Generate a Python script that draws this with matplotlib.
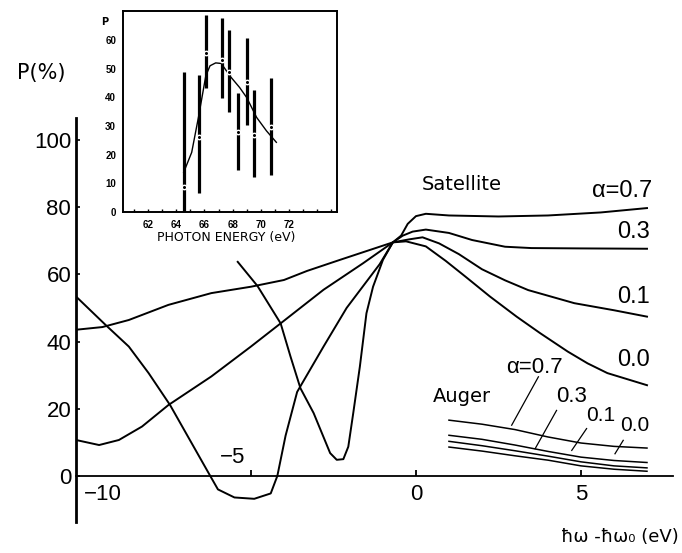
import matplotlib
matplotlib.use('Agg')
import matplotlib.pyplot as plt
from matplotlib import font_manager

# narrow face for the numbers, if one is installed; Arial-like otherwise
names = {f.name for f in font_manager.fontManager.ttflist}
NARROW = 'DejaVu Sans'
for cand in ['Liberation Sans Narrow', 'DejaVu Sans Condensed', 'Liberation Sans']:
    if cand in names:
        NARROW = cand
        break

# ---- main plot: satellite polarization vs hw - hw0 ----
sat07_x = [-10.3, -9.5, -8.7, -7.5, -6.2, -5.0, -4.0, -3.3, -2.3, -1.1, -0.7,
           -0.45, -0.25, 0.0, 0.3, 1.0, 2.5, 4.0, 5.6, 7.0]
sat07_y = [43.5, 44.3, 46.4, 50.9, 54.4, 56.3, 58.3, 61.0, 64.3, 68.2, 69.5,
           71.5, 75.0, 77.3, 78.0, 77.5, 77.2, 77.5, 78.4, 79.7]

sat03_x = [-10.3, -9.6, -9.0, -8.3, -7.5, -6.2, -5.0, -4.1, -2.8, -1.6, -0.7,
           -0.4, -0.1, 0.3, 1.0, 1.7, 2.7, 3.5, 5.0, 7.0]
sat03_y = [10.7, 9.2, 10.7, 14.7, 21.1, 29.6, 38.5, 45.4, 55.4, 63.3, 69.5,
           71.5, 72.7, 73.3, 72.3, 70.2, 68.2, 67.8, 67.7, 67.6]

sat01_x = [-10.3, -9.4, -8.7, -8.1, -7.45, -6.85, -6.25, -6.0, -5.5, -4.9, -4.4,
           -4.2, -3.95, -3.6, -2.8, -2.1, -1.1, -0.7, -0.2, 0.2, 0.7, 1.3,
           2.0, 2.7, 3.4, 4.8, 6.0, 7.0]
sat01_y = [53.4, 44.9, 38.5, 30.6, 21.1, 10.7, 0.3, -4.0, -6.4, -6.8, -5.2,
           0.0, 12.0, 25.0, 38.5, 50.0, 63.0, 69.5, 70.4, 71.0, 69.2, 66.0,
           61.5, 58.2, 55.3, 51.4, 49.3, 47.4]

sat00_x = [-5.4, -4.8, -4.1, -3.8, -3.5, -3.1, -2.6, -2.4, -2.2, -2.05, -1.9,
           -1.7, -1.5, -1.3, -1.0, -0.7, -0.3, 0.3, 0.9, 1.5, 2.24, 3.05, 3.76,
           4.6, 5.2, 5.8, 7.0]
sat00_y = [63.7, 56.5, 45.4, 35.5, 26.1, 18.7, 6.8, 4.8, 5.0, 8.7, 18.7,
           32.5, 48.4, 56.3, 64.3, 69.5, 69.8, 68.3, 64.0, 59.3, 53.4, 47.4, 42.5,
           37.0, 33.5, 30.6, 27.0]

auger_x = [1.0, 2.0, 3.0, 4.0, 5.0, 6.0, 7.0]
auger07 = [16.6, 15.4, 13.8, 11.6, 9.8, 8.8, 8.3]
auger03 = [12.1, 10.9, 9.2, 7.3, 5.6, 4.6, 4.0]
auger01 = [10.3, 9.0, 7.5, 5.9, 4.2, 3.0, 2.4]
auger00 = [8.6, 7.4, 6.0, 4.7, 3.0, 2.0, 1.4]

y_ticks = [0, 20, 40, 60, 80, 100]

# ---- inset: measured P vs photon energy ----
exp_e = [64.53, 65.62, 66.09, 67.23, 67.77, 68.38, 69.0, 69.52, 70.7]
exp_p = [8.8, 26.3, 55.3, 53.0, 48.9, 28.0, 45.5, 26.9, 29.8]
exp_lo = [0.0, 6.5, 43.1, 39.7, 35.0, 14.6, 30.3, 12.3, 12.9]
exp_hi = [48.9, 47.8, 68.7, 67.5, 63.5, 41.4, 60.6, 42.6, 46.6]

fit_e = [64.53, 65.1, 65.6, 66.1, 66.4, 66.8, 67.2, 67.8, 68.5, 69.0, 69.7, 70.4, 71.1]
fit_p = [13.8, 20.8, 33.6, 47.5, 51.0, 52.0, 51.8, 47.5, 43.4, 39.9, 33.0, 28.3, 24.3]

inset_xticks = [62, 64, 66, 68, 70, 72]
inset_yticks = [0, 10, 20, 30, 40, 50, 60]

fig = plt.figure(figsize=(6.82, 5.53), dpi=100)
ax = fig.add_axes([76 / 682, 31 / 553, 597.4 / 682, 404 / 553])
ax.set_xlim(-10.3, 7.8)
ax.set_ylim(-13.7, 106.5)
ax.spines['top'].set_visible(False)
ax.spines['right'].set_visible(False)
ax.spines['bottom'].set_position(('data', 0))
ax.spines['left'].set_linewidth(2.0)
ax.spines['bottom'].set_linewidth(1.3)

ax.set_yticks(y_ticks)
ax.set_yticklabels([str(v) for v in y_ticks], fontfamily=NARROW, fontsize=16)
ax.tick_params(axis='y', direction='in', length=3, width=1.2, pad=3.5)
ax.set_xticks([-5, 0, 5])
ax.set_xticklabels([])
ax.tick_params(axis='x', direction='in', length=4, width=1.3)

for xs, ys in [(sat07_x, sat07_y), (sat03_x, sat03_y), (sat01_x, sat01_y), (sat00_x, sat00_y)]:
    ax.plot(xs, ys, color='k', lw=1.4, solid_joinstyle='round')
for ys in [auger07, auger03, auger01, auger00]:
    ax.plot(auger_x, ys, color='k', lw=1.1)

# x tick numbers are placed by hand, as in the original
num = dict(fontfamily=NARROW, fontsize=16, ha='center', va='center')
ax.text(-9.48, -5.65, '\u221210', **num)
ax.text(-5.55, 5.4, '\u22125', **num)
ax.text(0, -5.65, '0', **num)
ax.text(5, -5.65, '5', **num)

# satellite labels
ax.text(1.39, 86.6, 'Satellite', fontsize=14, ha='center', va='center')
ax.text(7.15, 84.8, '\u03b1=0.7', fontfamily=[NARROW, 'DejaVu Sans'], fontsize=17,
        ha='right', va='center')
ax.text(7.1, 72.6, '0.3', fontfamily=NARROW, fontsize=17, ha='right', va='center')
ax.text(7.1, 53.3, '0.1', fontfamily=NARROW, fontsize=17, ha='right', va='center')
ax.text(7.1, 34.5, '0.0', fontfamily=NARROW, fontsize=17, ha='right', va='center')

# auger labels with leader lines
ax.text(1.38, 23.5, 'Auger', fontsize=14, ha='center', va='center')
ax.text(3.6, 32.4, '\u03b1=0.7', fontfamily=[NARROW, 'DejaVu Sans'], fontsize=16,
        ha='center', va='center')
ax.text(4.72, 23.5, '0.3', fontfamily=NARROW, fontsize=16, ha='center', va='center')
ax.text(5.6, 18.0, '0.1', fontfamily=NARROW, fontsize=15, ha='center', va='center')
ax.text(6.64, 14.9, '0.0', fontfamily=NARROW, fontsize=15, ha='center', va='center')
for x0, y0, x1, y1 in [(3.71, 29.5, 2.9, 15.1), (4.26, 19.5, 3.61, 8.1),
                       (5.17, 14.1, 4.72, 7.6), (6.28, 10.6, 6.03, 6.6)]:
    ax.plot([x0, x1], [y0, y1], color='k', lw=0.9)

fig.text(41 / 682, 1 - 73 / 553, 'P(%)', fontsize=15, ha='center', va='center')
fig.text(620 / 682, 1 - 537 / 553, '\u0127\u03c9 -\u0127\u03c9\u2080 (eV)', fontsize=13,
         ha='center', va='center')

# ---- inset ----
ins = fig.add_axes([123 / 682, (553 - 212) / 553, 214 / 682, 201 / 553])
ins.set_xlim(60.23, 75.4)
ins.set_ylim(0, 70.1)
for s in ins.spines.values():
    s.set_linewidth(1.4)
ins.vlines(exp_e, exp_lo, exp_hi, color='k', lw=2.3)
ins.plot(exp_e, exp_p, 'o', ms=3.2, mfc='k', mec='white', mew=1.0, zorder=3)
ins.plot(fit_e, fit_p, color='k', lw=1.0)

ins.set_xticks(range(61, 76))
ins.set_xticklabels([str(v) if v in inset_xticks else '' for v in range(61, 76)],
                    fontfamily=NARROW, fontsize=7, fontweight='bold')
ins.set_yticks(inset_yticks)
ins.set_yticklabels([str(v) for v in inset_yticks], fontfamily=NARROW, fontsize=7,
                    fontweight='bold')
ins.tick_params(axis='x', direction='in', length=2, width=1, pad=6)
ins.tick_params(axis='y', direction='in', length=0, pad=5)
ins.text(-0.084, 0.945, 'P', transform=ins.transAxes, fontsize=7, fontweight='bold',
         ha='center', va='center')
ins.text(0.481, -0.129, 'PHOTON ENERGY (eV)', transform=ins.transAxes, fontsize=9,
         ha='center', va='center')

fig.savefig('out.png', dpi=100)
